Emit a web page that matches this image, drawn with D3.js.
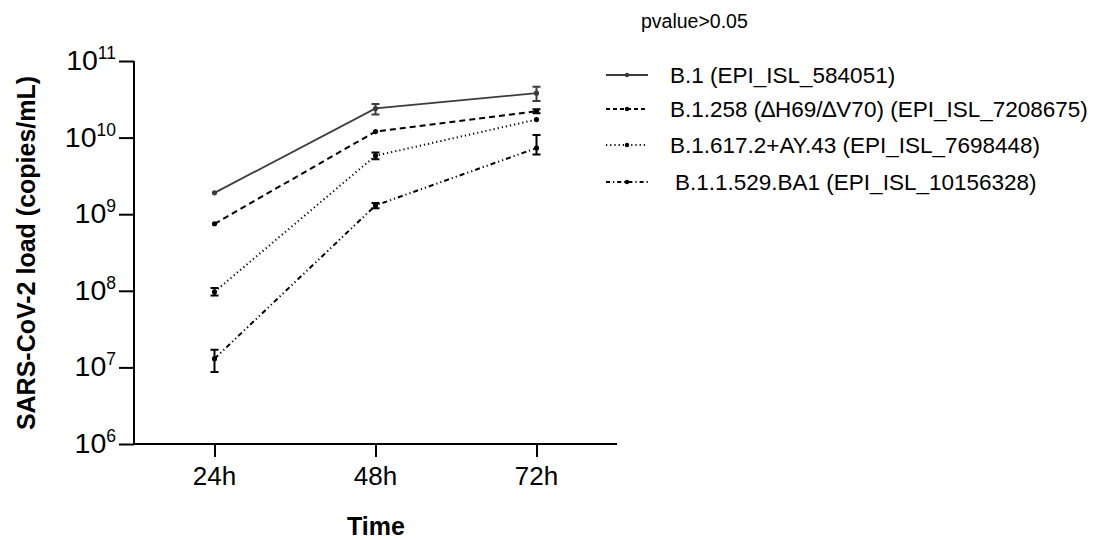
<!DOCTYPE html>
<html>
<head>
<meta charset="utf-8">
<script src="https://cdn.jsdelivr.net/npm/d3@7"></script>
<style>
  body { margin: 0; background: #fff; }
  text { font-family: "Liberation Sans", Arial, sans-serif; }
</style>
</head>
<body>
<script>
// Data
var times = ['24h', '48h', '72h'];
var seriesNames = [
  'B.1 (EPI_ISL_584051)',
  'B.1.258 (\u2206H69/\u2206V70) (EPI_ISL_7208675)',
  'B.1.617.2+AY.43 (EPI_ISL_7698448)',
  'B.1.1.529.BA1 (EPI_ISL_10156328)'
];
var b1Mean   = [1.9e9, 2.4e10, 3.8e10];
var b1Lo     = [1.9e9, 2.0e10, 3.0e10];
var b1Hi     = [1.9e9, 2.75e10, 4.6e10];
var b1258Mean = [7.5e8, 1.2e10, 2.2e10];
var b1258Lo   = [7.5e8, 1.2e10, 2.08e10];
var b1258Hi   = [7.5e8, 1.2e10, 2.34e10];
var deltaMean = [9.7e7, 5.8e9, 1.72e10];
var deltaLo   = [8.7e7, 5.2e9, 1.72e10];
var deltaHi   = [1.09e8, 6.4e9, 1.72e10];
var ba1Mean = [1.3e7, 1.3e9, 7.3e9];
var ba1Lo   = [8.7e6, 1.2e9, 6.0e9];
var ba1Hi   = [1.7e7, 1.4e9, 1.08e10];
var yTicks = [1e6, 1e7, 1e8, 1e9, 1e10, 1e11];

var seriesMean = [b1Mean, b1258Mean, deltaMean, ba1Mean];
var seriesLo = [b1Lo, b1258Lo, deltaLo, ba1Lo];
var seriesHi = [b1Hi, b1258Hi, deltaHi, ba1Hi];
var colors = ['#3c3c3c', '#000', '#000', '#000'];
var dashes = [null, '6,4', '1.2,3', '5,3,1.2,3,1.2,3'];
var legendDashes = [null, '4,3', '1.2,3', '4,3,1.2,3'];

var w = 1103, h = 540;
var mLeft = 134, mRight = 617, mTop = 61, mBottom = 444;

var svg = d3.select('body').append('svg')
  .attr('width', w).attr('height', h);

var x = d3.scalePoint().domain(times).range([mLeft, mRight]).padding(0.5);
var y = d3.scaleLog().domain([1e6, 1e11]).range([mBottom, mTop]);

// axes
var yAxis = svg.append('g')
  .attr('transform', 'translate(' + mLeft + ',0)')
  .call(d3.axisLeft(y).tickValues(yTicks).tickSize(15).tickFormat(''));
var xAxis = svg.append('g')
  .attr('transform', 'translate(0,' + mBottom + ')')
  .call(d3.axisBottom(x).tickSize(13).tickFormat(''));
svg.selectAll('.domain').attr('stroke', '#000').attr('stroke-width', 2);
svg.selectAll('.tick line').attr('stroke', '#000').attr('stroke-width', 2);
yAxis.select('.domain').attr('d', 'M0,' + mTop + 'V' + (mBottom + 1));
xAxis.select('.domain').attr('d', 'M' + (mLeft - 1) + ',0H' + mRight);

// y tick labels
yTicks.forEach(function(t) {
  var lbl = svg.append('text')
    .attr('x', 116).attr('y', y(t) + 9)
    .attr('text-anchor', 'end')
    .attr('font-size', '28.5px').attr('fill', '#000');
  lbl.append('tspan').text('10');
  lbl.append('tspan').attr('font-size', '17.5px').attr('dy', -11)
    .text(Math.round(Math.log10(t)));
});

// x tick labels
svg.selectAll('.xlbl').data(times).enter().append('text')
  .attr('x', function(d) { return x(d); })
  .attr('y', 485)
  .attr('text-anchor', 'middle')
  .attr('font-size', '26px')
  .text(function(d) { return d; });

// axis titles
svg.append('text')
  .attr('transform', 'translate(35,253) rotate(-90)')
  .attr('text-anchor', 'middle')
  .attr('font-size', '25px').attr('font-weight', 'bold')
  .text('SARS-CoV-2 load (copies/mL)');
svg.append('text')
  .attr('x', 376).attr('y', 535)
  .attr('text-anchor', 'middle')
  .attr('font-size', '25px').attr('font-weight', 'bold')
  .text('Time');

// lines, error bars, markers
var line = d3.line()
  .x(function(d, i) { return x(times[i]); })
  .y(function(d) { return y(d); });

seriesMean.forEach(function(vals, s) {
  var g = svg.append('g');
  g.append('path')
    .attr('d', line(vals))
    .attr('fill', 'none')
    .attr('stroke', colors[s])
    .attr('stroke-width', s === 0 ? 1.8 : 2)
    .attr('stroke-dasharray', dashes[s]);
  vals.forEach(function(v, i) {
    var lo = seriesLo[s][i], hi = seriesHi[s][i];
    var cx = x(times[i]);
    if (hi > lo) {
      g.append('path')
        .attr('d', 'M' + cx + ',' + y(hi) + 'V' + y(lo) +
          'M' + (cx - 4) + ',' + y(hi) + 'H' + (cx + 4) +
          'M' + (cx - 4) + ',' + y(lo) + 'H' + (cx + 4))
        .attr('fill', 'none')
        .attr('stroke', colors[s])
        .attr('stroke-width', 2);
    }
    g.append('circle')
      .attr('cx', cx).attr('cy', y(v)).attr('r', 2.6)
      .attr('fill', colors[s]);
  });
});

// legend
svg.append('text')
  .attr('x', 641).attr('y', 28)
  .attr('font-size', '19.5px')
  .text('pvalue>0.05');

var legendY = [75, 109, 145, 182];
var legendTextX = [670, 670, 670, 675];
seriesNames.forEach(function(name, s) {
  var ly = legendY[s];
  svg.append('line')
    .attr('x1', 606).attr('x2', 648)
    .attr('y1', ly).attr('y2', ly)
    .attr('stroke', colors[s])
    .attr('stroke-width', 1.8)
    .attr('stroke-dasharray', legendDashes[s]);
  svg.append('circle')
    .attr('cx', 627).attr('cy', ly).attr('r', 2.2)
    .attr('fill', colors[s]);
  svg.append('text')
    .attr('x', legendTextX[s]).attr('y', ly + 8)
    .attr('font-size', '22.5px')
    .text(name);
});
</script>
</body>
</html>
